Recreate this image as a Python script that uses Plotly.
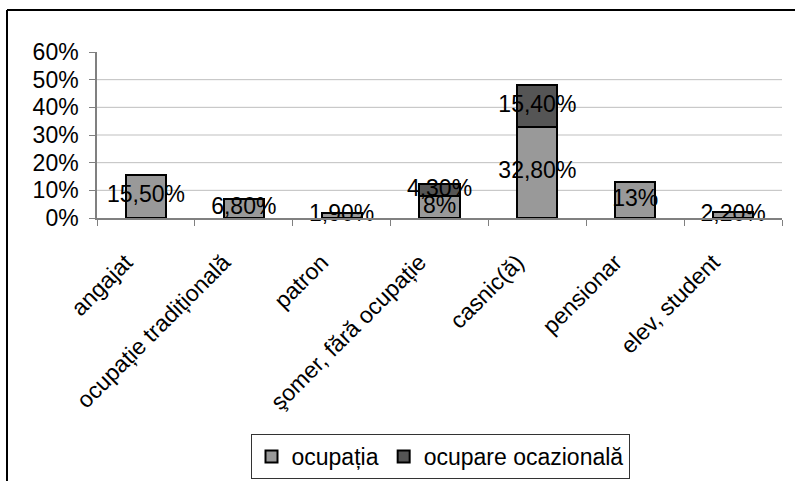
import plotly.graph_objects as go

# Categories and shares (fractions of 1)
categories = [
    "angajat",
    "ocupație tradițională",
    "patron",
    "şomer, fără ocupație",
    "casnic(ă)",
    "pensionar",
    "elev, student",
]
ocupatia = [0.155, 0.068, 0.019, 0.08, 0.328, 0.13, 0.022]
ocazionala = [None, None, None, 0.043, 0.154, None, None]
y_ticks = [0, 0.1, 0.2, 0.3, 0.4, 0.5, 0.6]
y_tick_text = ["0%", "10%", "20%", "30%", "40%", "50%", "60%"]


def fmt_pct(v):
    """Format like '15,50%' or '8%' for whole percentages."""
    p = round(v * 100, 2)
    if abs(p - round(p)) < 1e-9:
        return f"{int(round(p))}%"
    return f"{p:.2f}%".replace(".", ",")


FONT = "Liberation Sans, Arial, sans-serif"
FS = 23
LIGHT = "#999999"
DARK = "#555555"

fig = go.Figure()
fig.add_trace(go.Bar(
    name="ocupația", x=categories, y=ocupatia, width=0.41,
    marker=dict(color=LIGHT, line=dict(color="black", width=2)),
    hoverinfo="skip",
))
fig.add_trace(go.Bar(
    name="ocupare ocazională", x=categories, y=ocazionala, width=0.41,
    marker=dict(color=DARK, line=dict(color="black", width=2)),
    hoverinfo="skip",
))

# value labels centred on each stacked segment
lx, ly, lt = [], [], []
for i, c in enumerate(categories):
    base = 0.0
    for series in (ocupatia, ocazionala):
        v = series[i]
        if v is None:
            continue
        lx.append(c)
        ly.append(base + v / 2)
        lt.append(fmt_pct(v))
        base += v
fig.add_trace(go.Scatter(
    x=lx, y=ly, text=lt, mode="text", showlegend=False,
    textposition="middle center", cliponaxis=False, hoverinfo="skip",
    textfont=dict(family=FONT, size=FS, color="black"),
))

# horizontal gridlines (none on the top edge)
shapes = []
for t in y_ticks[1:-1]:
    shapes.append(dict(type="line", xref="paper", yref="y", x0=0, x1=1,
                       y0=t, y1=t, line=dict(color="#BFBFBF", width=1),
                       layer="below"))

# outer chart frame: top and left edges (the rest runs off the page)
L, R, T, B = 97, 13, 52, 263
W, H = 795, 481
pw, ph = W - L - R, H - T - B


def px_x(p):
    return (p - L) / pw


def px_y(p):
    return (H - B - p) / ph


shapes.append(dict(type="line", xref="paper", yref="paper",
                   x0=px_x(7), x1=px_x(W), y0=px_y(10), y1=px_y(10),
                   line=dict(color="black", width=2), layer="below"))
shapes.append(dict(type="line", xref="paper", yref="paper",
                   x0=px_x(7), x1=px_x(7), y0=px_y(10), y1=px_y(H),
                   line=dict(color="black", width=2), layer="below"))

fig.update_layout(
    width=W, height=H,
    margin=dict(l=L, r=R, t=T, b=B, pad=0, autoexpand=False),
    paper_bgcolor="white", plot_bgcolor="white",
    barmode="stack", bargap=0.59,
    font=dict(family=FONT, size=FS, color="black"),
    shapes=shapes,
    showlegend=True,
    legend=dict(
        orientation="h", x=px_x(440), xanchor="center",
        y=px_y(479), yanchor="bottom",
        bgcolor="white", bordercolor="#333333", borderwidth=1,
        font=dict(family=FONT, size=FS, color="black"),
        itemwidth=30, traceorder="normal", tracegroupgap=0,
    ),
    xaxis=dict(
        type="category", range=[-0.5, 6.5], tickangle=-45,
        ticks="outside", tickson="boundaries", ticklen=6, automargin=False,
        tickcolor="#808080", showline=True, linecolor="#808080", linewidth=1.5,
        showgrid=False, tickfont=dict(size=FS),
        ticklabelshift=-20, ticklabelstandoff=20,
    ),
    yaxis=dict(
        range=[0, 0.6], tickvals=y_ticks, ticktext=y_tick_text,
        ticks="outside", ticklen=6, tickcolor="#808080", automargin=False,
        showline=True, linecolor="#808080", linewidth=1.5,
        showgrid=False, zeroline=False, tickfont=dict(size=FS),
        ticklabelstandoff=6,
    ),
)

fig.write_html("out.html")
